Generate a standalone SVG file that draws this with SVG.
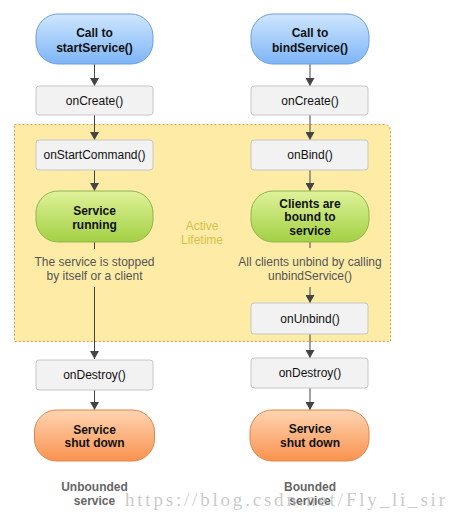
<svg xmlns="http://www.w3.org/2000/svg" width="456" height="524" viewBox="0 0 456 524">
<defs>
<linearGradient id="gBlue" x1="0" y1="0" x2="0" y2="1"><stop offset="0" stop-color="#cfe6ff"/><stop offset="1" stop-color="#7db5f6"/></linearGradient>
<linearGradient id="gGreen" x1="0" y1="0" x2="0" y2="1"><stop offset="0" stop-color="#dff29a"/><stop offset="1" stop-color="#a3d044"/></linearGradient>
<linearGradient id="gOrange" x1="0" y1="0" x2="0" y2="1"><stop offset="0" stop-color="#ffd5b3"/><stop offset="1" stop-color="#f9924f"/></linearGradient>
<marker id="ah" viewBox="0 0 8 9" refX="8" refY="4.5" markerWidth="8" markerHeight="9" orient="auto" markerUnits="userSpaceOnUse"><path d="M0,0 L8,4.5 L0,9 Z" fill="#444"/></marker>
</defs>
<style>
.box{fill:#f2f2f2;stroke:#c6c6c6;stroke-width:1}
.blue{fill:url(#gBlue);stroke:#6c9ee0;stroke-width:1}
.green{fill:url(#gGreen);stroke:#8db54a;stroke-width:1}
.orange{fill:url(#gOrange);stroke:#e0854a;stroke-width:1}
.t{font-family:"Liberation Sans",Arial,sans-serif;font-size:12px;fill:#111;text-anchor:middle}
.b{font-weight:bold}
.lbl{font-family:"Liberation Sans",Arial,sans-serif;font-size:12px;fill:#555;text-anchor:middle}
.cap{font-family:"Liberation Sans",Arial,sans-serif;font-size:12px;font-weight:bold;fill:#666;text-anchor:middle}
.act{font-family:"Liberation Sans",Arial,sans-serif;font-size:12px;fill:#d5bf4c;text-anchor:middle}
.c{stroke:#444;stroke-width:1;fill:none}
</style>
<rect x="0" y="0" width="456" height="524" fill="#ffffff"/>
<g id="active-lifetime">
<path d="M14.5,124.5 H384 Q390.5,124.5 390.5,131 V341.5 H14.5 Z" fill="#feeca6" stroke="#e49a4e" stroke-width="1" stroke-dasharray="2 2"/>
<text class="act" x="202" y="230">Active</text>
<text class="act" x="202" y="244">Lifetime</text>
</g>
<g id="connectors">
<line class="c" x1="94.5" y1="64" x2="94.5" y2="86" marker-end="url(#ah)"/>
<line class="c" x1="94.5" y1="115" x2="94.5" y2="140" marker-end="url(#ah)"/>
<line class="c" x1="94.5" y1="170" x2="94.5" y2="191" marker-end="url(#ah)"/>
<line class="c" x1="94.5" y1="242" x2="94.5" y2="249"/>
<line class="c" x1="94.5" y1="287" x2="94.5" y2="359" marker-end="url(#ah)"/>
<line class="c" x1="94.5" y1="390" x2="94.5" y2="410" marker-end="url(#ah)"/>
<line class="c" x1="310" y1="64" x2="310" y2="86" marker-end="url(#ah)"/>
<line class="c" x1="310" y1="115" x2="310" y2="140" marker-end="url(#ah)"/>
<line class="c" x1="310" y1="170" x2="310" y2="191" marker-end="url(#ah)"/>
<line class="c" x1="310" y1="242" x2="310" y2="248"/>
<line class="c" x1="310" y1="287" x2="310" y2="303" marker-end="url(#ah)"/>
<line class="c" x1="310" y1="334" x2="310" y2="358" marker-end="url(#ah)"/>
<line class="c" x1="310" y1="388" x2="310" y2="410" marker-end="url(#ah)"/>
</g>
<g id="start-call">
<rect class="blue" x="36" y="14" width="117" height="50" rx="22"/>
<text class="t b" x="94.5" y="37">Call to</text>
<text class="t b" x="94.5" y="51.5">startService()</text>
</g>
<g id="left-oncreate">
<rect class="box" x="36" y="86" width="117" height="29" rx="3"/>
<text class="t" x="94.5" y="104.5">onCreate()</text>
</g>
<g id="onstartcommand">
<rect class="box" x="36" y="140" width="117" height="30" rx="3"/>
<text class="t" x="94.5" y="159">onStartCommand()</text>
</g>
<g id="service-running">
<rect class="green" x="36" y="191" width="117" height="51" rx="22"/>
<text class="t b" x="94.5" y="214.5">Service</text>
<text class="t b" x="94.5" y="228.5">running</text>
</g>
<g id="left-label">
<text class="lbl" x="94.5" y="266">The service is stopped</text>
<text class="lbl" x="94.5" y="280">by itself or a client</text>
</g>
<g id="left-ondestroy">
<rect class="box" x="36" y="360" width="117" height="30" rx="3"/>
<text class="t" x="94.5" y="379">onDestroy()</text>
</g>
<g id="left-shutdown">
<rect class="orange" x="34.5" y="410" width="120" height="51" rx="22"/>
<text class="t b" x="94.5" y="433.5">Service</text>
<text class="t b" x="94.5" y="447">shut down</text>
</g>
<g id="left-caption">
<text class="cap" x="94.5" y="491">Unbounded</text>
<text class="cap" x="94.5" y="505">service</text>
</g>
<g id="bind-call">
<rect class="blue" x="251" y="14" width="118" height="50" rx="22"/>
<text class="t b" x="310" y="37">Call to</text>
<text class="t b" x="310" y="51.5">bindService()</text>
</g>
<g id="right-oncreate">
<rect class="box" x="251" y="86" width="117" height="29" rx="3"/>
<text class="t" x="310" y="104.5">onCreate()</text>
</g>
<g id="onbind">
<rect class="box" x="251" y="140" width="117" height="30" rx="3"/>
<text class="t" x="310" y="159">onBind()</text>
</g>
<g id="clients-bound">
<rect class="green" x="251" y="191" width="118" height="51" rx="22"/>
<text class="t b" x="310" y="207.5">Clients are</text>
<text class="t b" x="310" y="221">bound to</text>
<text class="t b" x="310" y="234.5">service</text>
</g>
<g id="right-label">
<text class="lbl" x="310" y="265.5">All clients unbind by calling</text>
<text class="lbl" x="310" y="279.5">unbindService()</text>
</g>
<g id="onunbind">
<rect class="box" x="251" y="303" width="117" height="31" rx="3"/>
<text class="t" x="310" y="322.5">onUnbind()</text>
</g>
<g id="right-ondestroy">
<rect class="box" x="251" y="358" width="117" height="30" rx="3"/>
<text class="t" x="310" y="377">onDestroy()</text>
</g>
<g id="right-shutdown">
<rect class="orange" x="250" y="410" width="119" height="51" rx="22"/>
<text class="t b" x="310" y="433">Service</text>
<text class="t b" x="310" y="446.5">shut down</text>
</g>
<g id="right-caption">
<text class="cap" x="310" y="491">Bounded</text>
<text class="cap" x="310" y="505">service</text>
</g>
<text x="125" y="506" font-family="'Liberation Serif','Times New Roman',serif" font-size="19" fill="#b8b8b8" fill-opacity="0.75" textLength="320" lengthAdjust="spacing">https://blog.csdn.net/Fly_li_sir</text>
</svg>
